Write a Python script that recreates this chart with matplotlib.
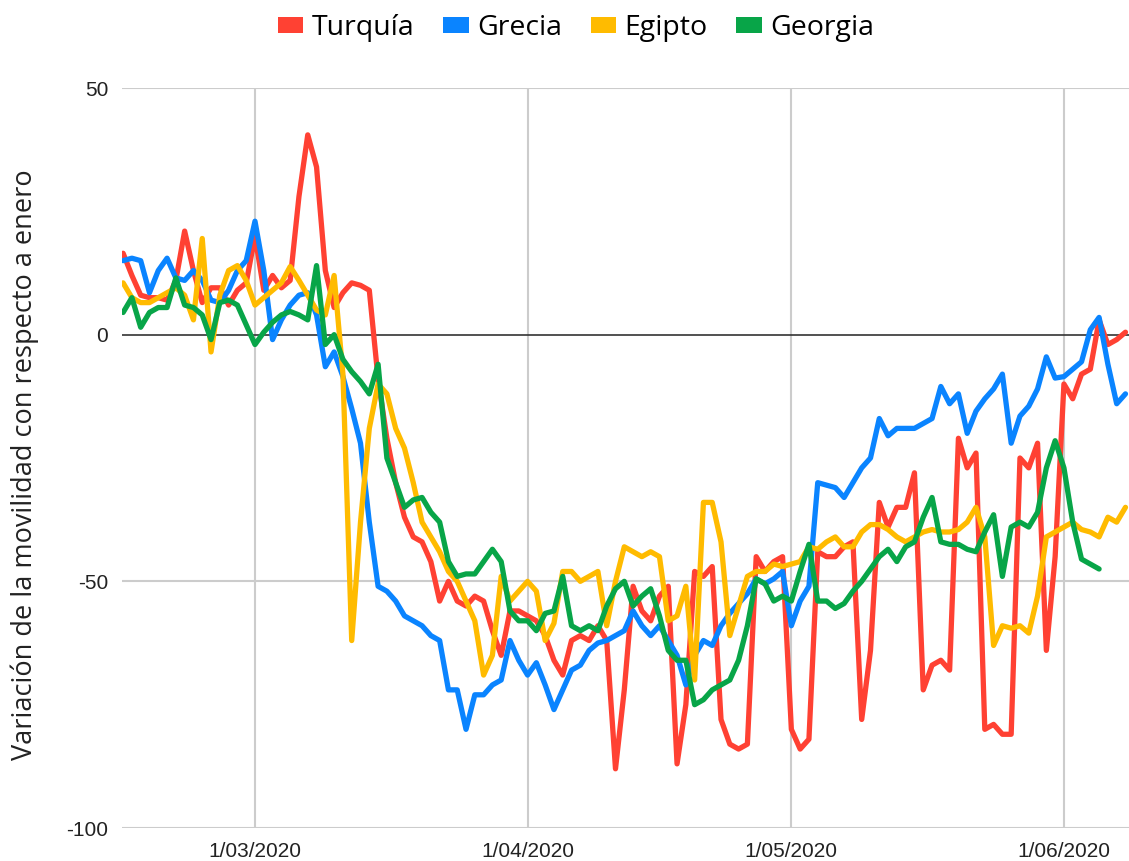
import numpy as np
import pandas as pd
import matplotlib
matplotlib.use("Agg")
import matplotlib.pyplot as plt
from matplotlib.patches import Patch

plt.rcParams["axes.unicode_minus"] = False

# daily values, 15/02/2020 onwards
dates = pd.date_range("2020-02-15", periods=115, freq="D")

turquia = [16.5, 12, 8, 7.5, 7.5, 7, 11, 21, 13, 6.5,
           9.5, 9.5, 6, 9, 10.5, 20, 9, 12, 9.5, 11,
           28, 40.5, 34, 13, 5.5, 8.5, 10.5, 10, 9, -9,
           -21, -30, -37, -41, -42, -46, -54, -50, -54, -55,
           -53, -54, -60, -65, -56, -56, -57, -58, -61, -66,
           -69, -62, -61, -62, -59, -62, -88, -72, -51, -56,
           -58, -53, -51, -87, -75, -48, -49, -47, -78, -83,
           -84, -83, -45, -48, -46, -45, -80, -84, -82, -44,
           -45, -45, -43, -42, -78, -64, -34, -39, -35, -35,
           -28, -72, -67, -66, -68, -21, -27, -24, -80, -79,
           -81, -81, -25, -27, -22, -64, -45, -10, -13, -8,
           -7, 3, -2, -1, 0.5]

grecia = [15, 15.5, 15, 8.5, 13, 15.5, 11.5, 11, 13, 11,
          7, 6.5, 9, 13, 15, 23, 13, -1, 3, 6,
          8, 8.5, 4, -6.5, -3.5, -8.5, -15, -22, -38, -51,
          -52, -54, -57, -58, -59, -61, -62, -72, -72, -80,
          -73, -73, -71, -70, -62, -66, -69, -66.5, -71, -76,
          -72, -68, -67, -64, -62.5, -62, -61, -60, -56, -59,
          -61, -59, -62, -65, -71, -65, -62, -63, -59, -56.5,
          -54.5, -52.5, -49.5, -50.5, -49.5, -48, -59, -54, -51, -30,
          -30.5, -31, -33, -30, -27, -25, -17, -20.5, -19, -19,
          -19, -18, -17, -10.5, -14, -12, -20, -15.5, -13, -11,
          -8, -22, -16.5, -14.5, -11, -4.5, -8.8, -8.5, -7, -5.5,
          1, 3.5, -6, -14, -12]

egipto = [10.5, 7.5, 6.5, 6.5, 7.5, 8.5, 9.5, 8, 3, 19.5,
          -3.5, 8, 13, 14, 11, 6, 7.5, 9, 10.5, 13.8,
          11, 8, 5, 4, 12, -8, -62, -38, -19, -10,
          -12, -19, -23, -30, -38, -41, -44, -48, -50, -54,
          -58, -69, -65, -49, -54, -52, -50, -52, -62, -58.5,
          -48, -48, -50, -49, -48, -59, -50, -43, -44, -45,
          -44, -45, -58, -57, -51, -70, -34, -34, -42, -61,
          -55, -49, -48, -48, -46.5, -47, -46.5, -46, -43, -43.5,
          -42, -41, -43, -43, -40, -38.5, -38.5, -39.5, -41, -42,
          -41, -40, -39.5, -40, -40, -39.5, -38, -35, -41, -63,
          -59, -59.5, -59, -60.5, -53, -41, -40, -39, -38, -39.5,
          -40, -41, -37, -38, -35]

georgia = [4.5, 7.5, 1.5, 4.5, 5.5, 5.5, 11.5, 6, 5.5, 4,
           -1, 6.5, 7, 6, 2, -2, 0.5, 2.5, 4, 4.7,
           4, 3, 14, -2, 0, -5, -7.5, -9.5, -12, -6,
           -25, -30, -35, -33.5, -33, -36, -38, -46, -49, -48.5,
           -48.5, -46, -43.5, -46, -56, -58, -58, -60, -56.5, -56,
           -49, -59, -60, -59, -60, -55, -51.5, -50, -55, -53,
           -51.5, -57, -64, -66, -66, -75, -74, -72, -71, -70,
           -66, -59, -49.5, -50.5, -54, -53, -54, -48, -42.5, -54,
           -54, -55.5, -54.5, -52, -50, -47.5, -45, -43.5, -46, -43,
           -42, -37, -33, -42, -42.5, -42.5, -43.5, -44, -40, -36.5,
           -49, -39, -38, -39, -36, -27, -21.5, -27, -38, -45.5,
           -46.5, -47.5, np.nan, np.nan, np.nan]

labels = ["Turquía", "Grecia", "Egipto", "Georgia"]
colors = ["#ff4133", "#0a84ff", "#ffbb00", "#08a548"]
series = [turquia, grecia, egipto, georgia]

tick_dates = pd.to_datetime(["2020-03-01", "2020-04-01", "2020-05-01", "2020-06-01"])
tick_labels = ["1/03/2020", "1/04/2020", "1/05/2020", "1/06/2020"]

fig = plt.figure(figsize=(11.29, 8.61), dpi=100)
ax = fig.add_axes([122 / 1129, 1 - 828 / 861, 1 - 122 / 1129, (828 - 88) / 861])

for vals, c in zip(series, colors):
    ax.plot(dates, vals, color=c, lw=3.8, solid_capstyle="round",
            solid_joinstyle="round", zorder=3)

ax.set_ylim(-100, 50)
ax.set_xlim(dates[0] - pd.Timedelta(hours=3), dates[0] + pd.Timedelta(days=114.4))
ax.set_yticks([50, 0, -50, -100])
ax.set_xticks(tick_dates)
ax.set_xticklabels(tick_labels)

for y in [50, -50, -100]:
    ax.axhline(y, color="#cccccc", lw=1.5, zorder=1)
ax.axhline(0, color="#333333", lw=1.2, zorder=2)
for d in tick_dates:
    ax.axvline(d, color="#cccccc", lw=1.5, zorder=1)

for s in ax.spines.values():
    s.set_visible(False)
ax.tick_params(length=0, labelsize=15, labelcolor="#222222")
ax.tick_params(axis="x", pad=10)
ax.tick_params(axis="y", pad=10)
for t in ax.get_xticklabels() + ax.get_yticklabels():
    t.set_family("Liberation Sans")

fig.text(25 / 1129, 1 - 465 / 861, "Variación de la movilidad con respecto a enero",
         rotation=90, ha="center", va="center", fontsize=19.5,
         family="Open Sans", color="#222222")

handles = [Patch(facecolor=c, edgecolor="none") for c in colors]
fig.legend(handles, labels, loc="center", bbox_to_anchor=(576 / 1129, 1 - 28 / 861),
           ncol=4, frameon=False, handlelength=0.9, handleheight=0.45,
           handletextpad=0.3, columnspacing=1.0,
           prop={"family": "Open Sans", "size": 20.5})

fig.savefig("out.png", dpi=100)
